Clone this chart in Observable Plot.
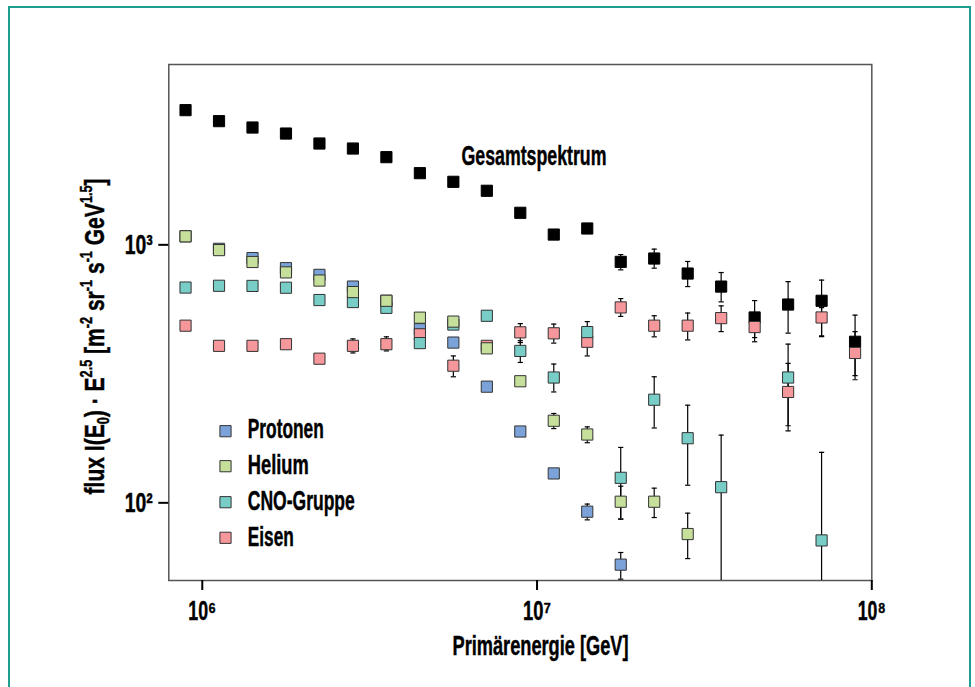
<!DOCTYPE html>
<html>
<head>
<meta charset="utf-8">
<script src="https://cdn.jsdelivr.net/npm/d3@7"></script>
<script src="https://cdn.jsdelivr.net/npm/@observablehq/plot@0.6"></script>
<style>
  html, body { margin: 0; padding: 0; background: #fff; overflow: hidden; }
  #wrap { position: relative; width: 975px; height: 687px; }
  #border { position: absolute; left: 8px; top: 6px; width: 963px; height: 760px;
            box-sizing: border-box; border: 2px solid #1f9e8f; pointer-events: none; z-index: 2; }
  #chart svg { display: block; }
</style>
</head>
<body>
<div id="wrap"><div id="chart"></div><div id="border"></div></div>
<script>
// ---- data (log10 of primary energy in GeV, bin centres) ----
const logEnergy = [5.95, 6.05, 6.15, 6.25, 6.35, 6.45, 6.55, 6.65, 6.75, 6.85, 6.95,
                   7.05, 7.15, 7.25, 7.35, 7.45, 7.55, 7.65, 7.75, 7.85, 7.95];

// Gesamtspektrum (all-particle)
const totalFlux = [3327, 3016, 2849, 2700, 2470, 2362, 2187, 1896, 1755, 1620, 1331,
                   1096, 1157, 859, 885, 774, 689, 523, 587, 607, 421];
const totalHi   = [null, null, null, null, null, null, null, null, null, null, null,
                   null, null, 917, 962, 862, 781, 608, 720, 730, 534];
const totalLo   = [null, null, null, null, null, null, null, null, null, null, null,
                   null, null, 800, 812, 689, 601, 421, 455, 441, 311];

// Protonen
const protonFlux = [1079, 965, 888, 812, 765, 689, 607, 471, 418, 282, 189,
                    130, 92.4, 57.6, null, null, null, null, null, null, null];
const protonHi   = [null, null, null, null, null, null, null, null, null, null, null,
                    null, 98.9, 64.2, null, null, null, null, null, null, null];
const protonLo   = [null, null, null, null, null, null, null, null, null, null, null,
                    null, 85.9, 50.6, null, null, null, null, null, null, null];

// Helium
const heliumFlux = [1079, 954, 858, 782, 727, 656, 607, 522, 504, 397, 296,
                    208, 184, 101, 101, 75.7, null, null, null, null, null];
const heliumHi   = [null, null, null, null, null, null, null, null, null, null, null,
                    222, 197, 116, 114, 91.2, null, null, null, null, null];
const heliumLo   = [null, null, null, null, null, null, null, null, null, null, null,
                    194, 171, 86.5, 87.7, 60.8, null, null, null, null, null];

// CNO-Gruppe
const cnoFlux = [683, 694, 693, 682, 611, 600, 570, 416, 491, 531, 388,
                 306, 459, 125, 251, 178, 115, null, 306, 71.5, null];
const cnoHi   = [null, null, null, null, null, null, null, null, null, null, 425,
                 345, 504, 164, 308, 239, 183, null, 412, 157, null];
const cnoLo   = [null, null, null, null, null, null, null, null, null, null, 350,
                 269, 416, 86.5, 195, 117, 40, null, 199, 40, null];

// Eisen
const ironFlux = [486, 406, 406, 412, 362, 406, 412, 450, 340, 406, 458,
                  454, 421, 572, 486, 486, 520, 480, 269, 523, 381];
const ironHi   = [null, null, null, null, null, 432, 440, null, 371, null, 495,
                  493, 477, 619, 531, 544, 580, 531, 347, 571, 461];
const ironLo   = [null, null, null, null, null, 381, 388, null, 308, null, 418,
                  416, 371, 528, 440, 428, 461, 437, 190, 444, 300];

const legendNames = ["Protonen", "Helium", "CNO-Gruppe", "Eisen"];
const totalLabel = "Gesamtspektrum";
const xLabel = "Primärenergie [GeV]";
const yLabel = "flux I(E_{0}) · E^{2.5} [m^{-2} sr^{-1} s^{-1} GeV^{1.5}]";
const xTicks = [1e6, 1e7, 1e8];
const yTicks = [100, 1000];

// ---- styling ----
const colors = {total: "#000000", Protonen: "#7ba3d9", Helium: "#c6e09b", "CNO-Gruppe": "#79cdc7", Eisen: "#f6979b"};
const FS = 28;
const textWidths = {"Protonen": 76, "Helium": 61, "CNO-Gruppe": 107, "Eisen": 46,
                    "Gesamtspektrum": 145, "Primärenergie [GeV]": 176};
const yLabelLength = 316;
const tickLabelLength = 28;
const legendSquareDy = [366.7, 401.7, 437.7, 473.3];
const legendTextDy = [364.3, 400.3, 436.3, 473];

// ---- build tables ----
function table(name, flux, hi, lo) {
  return logEnergy.map((le, i) => ({E: Math.pow(10, le), v: flux[i], hi: hi[i], lo: lo[i], s: name}))
                  .filter(d => d.v != null);
}
const total = table("total", totalFlux, totalHi, totalLo);
const proton = table("Protonen", protonFlux, protonHi, protonLo);
const helium = table("Helium", heliumFlux, heliumHi, heliumLo);
const cno = table("CNO-Gruppe", cnoFlux, cnoHi, cnoLo);
const iron = table("Eisen", ironFlux, ironHi, ironLo);
const all = [total, proton, helium, cno, iron].flat();
const errs = all.filter(d => d.hi != null && d.lo != null);

const capSymbol = {draw(ctx, size) { const w = Math.sqrt(size / Math.PI); ctx.moveTo(-w, 0); ctx.lineTo(w, 0); }};
const SQ = 6.3;
const squares = (data, name) => Plot.dot(data, {x: "E", y: "v", symbol: "square", r: SQ,
  fill: colors[name], stroke: name === "total" ? "#000" : "#333", strokeWidth: 1});

const SUP = "⁰¹²³⁴⁵⁶⁷⁸⁹";
const supFmt = d => "10" + String(Math.round(Math.log10(d))).split("").map(c => SUP[+c]).join("");

const marks = [
  Plot.frame({stroke: "#555", strokeWidth: 1.5}),
  Plot.axisX({ticks: xTicks, tickFormat: supFmt, tickSize: 10, tickPadding: 9.4, strokeWidth: 2, label: null, fontSize: FS}),
  Plot.axisY({ticks: yTicks, tickFormat: supFmt, tickSize: 10, tickPadding: 6, strokeWidth: 2, label: null, fontSize: FS}),
  Plot.ruleX(errs, {x: "E", y1: "lo", y2: "hi", stroke: "#000", strokeWidth: 1.2, clip: true}),
  Plot.dot(errs, {x: "E", y: "hi", symbol: capSymbol, r: 2.6, fill: "none", stroke: "#000", strokeWidth: 1.2, clip: true}),
  Plot.dot(errs, {x: "E", y: "lo", symbol: capSymbol, r: 2.6, fill: "none", stroke: "#000", strokeWidth: 1.2, clip: true}),
  squares(total, "total"),
  squares(proton, "Protonen"),
  squares(iron, "Eisen"),
  squares(cno, "CNO-Gruppe"),
  squares(helium, "Helium"),
  Plot.text([totalLabel], {frameAnchor: "top-left", dx: 292.7, dy: 92, text: d => d, textAnchor: "start", lineAnchor: "middle", fontSize: FS, fontWeight: "bold"}),
  Plot.text([xLabel], {frameAnchor: "bottom", dx: 20.2, dy: 66, text: d => d, textAnchor: "middle", lineAnchor: "middle", fontSize: FS, fontWeight: "bold"}),
  Plot.text([yLabel], {frameAnchor: "left", rotate: -90, dx: -74, dy: 172, text: d => d, textAnchor: "start", lineAnchor: "middle", fontSize: FS, fontWeight: "bold"}),
  ...legendNames.map((name, i) => Plot.dot([name], {frameAnchor: "top-left", dx: 56.7, dy: legendSquareDy[i],
      symbol: "square", r: SQ, fill: colors[name], stroke: "#333", strokeWidth: 1})),
  ...legendNames.map((name, i) => Plot.text([name], {frameAnchor: "top-left", dx: 79, dy: legendTextDy[i],
      text: d => d, textAnchor: "start", lineAnchor: "middle", fontSize: FS, fontWeight: "bold"}))
];

const chart = Plot.plot({
  width: 975, height: 687,
  marginLeft: 168.3, marginRight: 103.7, marginTop: 64, marginBottom: 107,
  x: {type: "log", domain: [Math.pow(10, 5.9), 1e8]},
  y: {type: "log", domain: [50, 5000]},
  style: {fontFamily: "'Liberation Sans Narrow', 'Liberation Sans', Arial, sans-serif", fontWeight: "bold",
          fontSize: FS + "px", color: "#000", background: "transparent", overflow: "visible"},
  marks
});
document.getElementById("chart").appendChild(chart);

// ---- rich text (super/subscripts) and condensed widths ----
const NS = "http://www.w3.org/2000/svg";
function richify(el) {
  const s = el.textContent;
  if (!/[\^_]\{/.test(s)) return false;
  const parts = s.split(/(\^\{[^}]*\}|_\{[^}]*\})/).filter(p => p !== "");
  while (el.firstChild) el.removeChild(el.firstChild);
  let offset = 0;
  for (const p of parts) {
    const t = document.createElementNS(NS, "tspan");
    let target = 0, content = p, small = false;
    if (p.startsWith("^{")) { target = -0.42 * FS; content = p.slice(2, -1); small = true; }
    else if (p.startsWith("_{")) { target = 0.2 * FS; content = p.slice(2, -1); small = true; }
    const dy = target - offset;
    if (dy) t.setAttribute("dy", dy);
    if (small) t.setAttribute("font-size", 0.6 * FS);
    offset = target;
    t.textContent = content;
    el.appendChild(t);
  }
  return true;
}
chart.querySelectorAll("text").forEach(el => {
  el.setAttribute("font-weight", "bold");
  el.style.stroke = "#000";
  el.style.strokeWidth = "0.45px";
  const s = el.textContent;
  if (s === yLabel) {
    richify(el);
    el.setAttribute("textLength", yLabelLength);
    el.setAttribute("lengthAdjust", "spacingAndGlyphs");
  } else if (s.startsWith("10") && s.length <= 3) {
    el.setAttribute("textLength", tickLabelLength);
    el.setAttribute("lengthAdjust", "spacingAndGlyphs");
  } else if (textWidths[s] != null) {
    el.setAttribute("textLength", textWidths[s]);
    el.setAttribute("lengthAdjust", "spacingAndGlyphs");
  }
});
</script>
</body>
</html>
